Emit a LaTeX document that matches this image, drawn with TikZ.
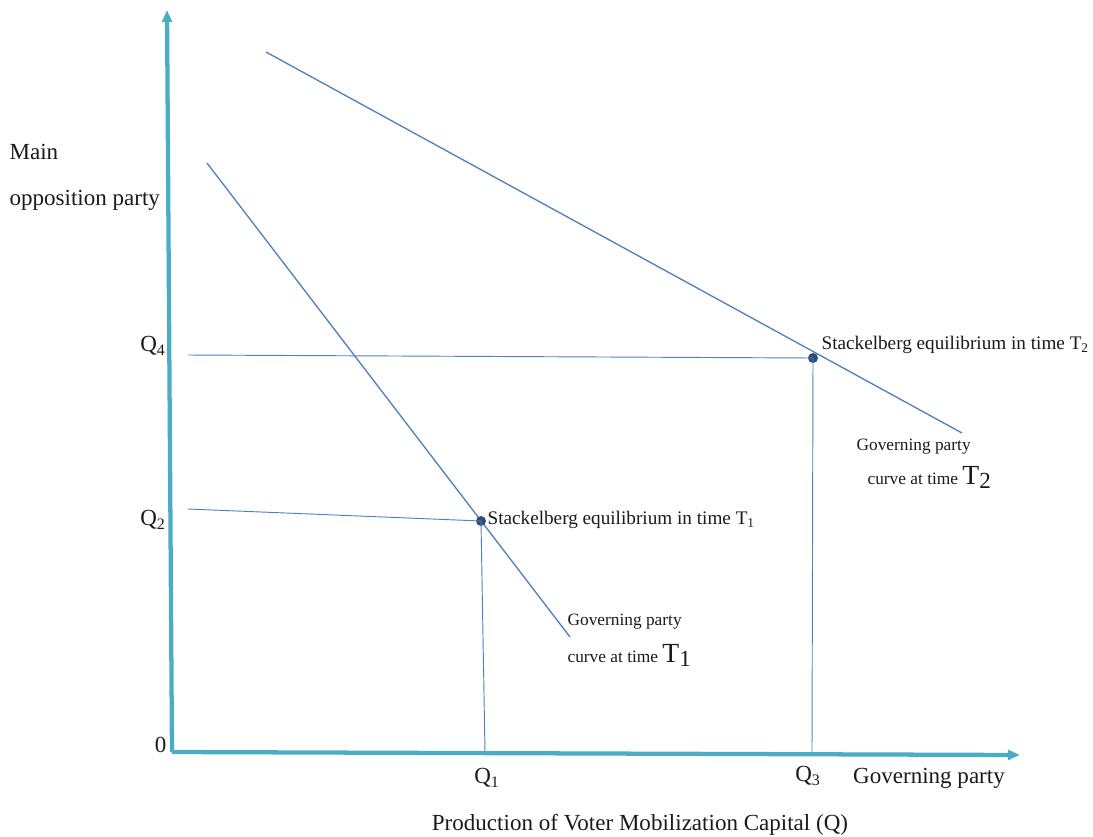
\documentclass[tikz,border=0pt]{standalone}
\usepackage{fontspec}
\setmainfont{Liberation Serif}
\usetikzlibrary{arrows.meta,positioning}
\definecolor{axisteal}{HTML}{4BACC6}
\definecolor{curveblue}{HTML}{4F81BD}
\definecolor{dotblue}{HTML}{2E4D7B}
\definecolor{ink}{HTML}{1A1A1A}
\tikzset{
  every node/.style={font=\rmfamily, text=ink},
  axis/.style={-{Triangle[length=3.2mm, width=2.6mm]}, line width=3.2pt, draw=axisteal},
  curve/.style={draw=curveblue, line width=1pt},
  guide/.style={draw=curveblue, line width=0.7pt},
  eqdot/.style={circle, fill=dotblue, inner sep=0pt, minimum size=7.5pt},
  lbl/.style={font=\rmfamily\LARGE, inner sep=1pt},
  note/.style={font=\rmfamily\Large, inner sep=1pt, align=left},
  small note/.style={note, font=\rmfamily\fontsize{13}{15}\selectfont},
}

\begin{document}
\begin{tikzpicture}[x=0.75pt, y=-0.75pt]
\useasboundingbox (0,0) rectangle (1093,836);

% --- axes ---
\coordinate (O) at (172,752);
\coordinate (Ytop) at (167,10);
\coordinate (Xend) at (1020,755);
\draw[axis] (O) -- (Ytop);
\draw[axis] (O) -- (Xend);

\node[lbl, anchor=east] (zero) at (168,745) {0};
\node[lbl, anchor=west] (main) at (8,152) {Main};
\node[lbl, anchor=west] (opp) at (8,200) {opposition party};
\node[lbl] (govx) at (929,778) {Governing party};
\node[lbl] (prod) at (640,825) {Production of Voter Mobilization Capital (Q)};

% --- reaction curves ---
\coordinate (A2) at (266,52);
\coordinate (B2) at (962,433);
\coordinate (A1) at (207,163);
\coordinate (B1) at (570,637);
\draw[curve] (A2) -- (B2);
\draw[curve] (A1) -- (B1);

% --- equilibria ---
\node[eqdot] (E2) at (813,358) {};
\node[eqdot] (E1) at (481,521) {};

\node[lbl] (Q4) at (153,346) {Q\textsubscript{4}};
\node[lbl] (Q2) at (153,520) {Q\textsubscript{2}};
\node[lbl] (Q1) at (487,778) {Q\textsubscript{1}};
\node[lbl] (Q3) at (808,776) {Q\textsubscript{3}};

\coordinate (Q4a) at (188,355);
\coordinate (Q2a) at (188,509);
\coordinate (Q1a) at (485,752);
\coordinate (Q3a) at (812,752);
\draw[guide] (Q4a) -- (E2.center);
\draw[guide] (E2.center) -- (Q3a);
\draw[guide] (Q2a) -- (E1.center);
\draw[guide] (E1.center) -- (Q1a);

\node[note, anchor=west] (S2) at (820,345) {Stackelberg equilibrium in time T\textsubscript{2}};
\node[note, anchor=west] (S1) at (486,520) {Stackelberg equilibrium in time T\textsubscript{1}};

% --- curve labels ---
\node[small note, anchor=west] (G2) at (855,447) {Governing party};
\node[small note, anchor=west] (C2) at (866,477) {curve at time {\huge T}\raisebox{-0.5ex}{\LARGE 2}};
\node[small note, anchor=west] (G1) at (566,622) {Governing party};
\node[small note, anchor=west] (C1) at (566,655) {curve at time {\huge T}\raisebox{-0.5ex}{\LARGE 1}};

\end{tikzpicture}
\end{document}
